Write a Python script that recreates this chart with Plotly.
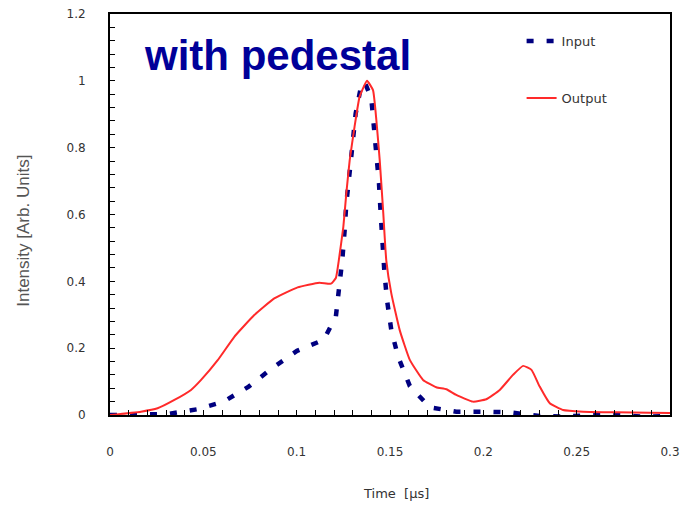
import plotly.graph_objects as go

# Output pulse (red solid)
out_t = [0, 0.0166, 0.0255, 0.0345, 0.0434, 0.0488, 0.0577, 0.0666, 0.0773, 0.088,
         0.1005, 0.1121, 0.1184, 0.121, 0.1225, 0.125, 0.1266, 0.1284, 0.131, 0.1337,
         0.1377, 0.1409, 0.1427, 0.1445, 0.1463, 0.148, 0.1507, 0.1552, 0.1606, 0.1677,
         0.1748, 0.1802, 0.1855, 0.1945, 0.2016, 0.2088, 0.2159, 0.2213, 0.2258, 0.2302,
         0.2356, 0.2427, 0.2534, 0.2713, 0.2891, 0.3]
out_v = [0, 0.01, 0.02, 0.045, 0.075, 0.105, 0.164, 0.234, 0.299, 0.349,
         0.382, 0.396, 0.393, 0.41, 0.46, 0.563, 0.663, 0.762, 0.862, 0.952,
         1.0, 0.972, 0.882, 0.762, 0.613, 0.463, 0.364, 0.254, 0.165, 0.105,
         0.083, 0.077, 0.06, 0.04, 0.047, 0.075, 0.12, 0.147, 0.135, 0.085,
         0.035, 0.015, 0.01, 0.008, 0.007, 0.006]

# Input pulse (navy dashed)
in_t = [0, 0.015, 0.031, 0.0466, 0.0609, 0.0743, 0.0868, 0.1002, 0.1145, 0.121,
        0.1229, 0.1245, 0.1257, 0.1266, 0.1284, 0.1302, 0.1316, 0.1346, 0.1364, 0.14,
        0.1414, 0.143, 0.1441, 0.145, 0.1459, 0.147, 0.1484, 0.1507, 0.1543, 0.1606,
        0.1713, 0.1855, 0.1998, 0.2141, 0.2302, 0.2436, 0.257, 0.272, 0.286, 0.3]
in_v = [0, 0, 0.003, 0.017, 0.04, 0.085, 0.14, 0.192, 0.225, 0.295,
        0.38, 0.468, 0.553, 0.633, 0.727, 0.817, 0.902, 0.987, 0.997, 0.947,
        0.862, 0.772, 0.693, 0.603, 0.518, 0.428, 0.344, 0.254, 0.175, 0.087,
        0.023, 0.01, 0.01, 0.008, -0.003, -0.005, 0.0, 0.0, -0.005, -0.003]

x_tickvals = [0, 0.05, 0.1, 0.15, 0.2, 0.25, 0.3]
x_ticktext = ["0", "0.05", "0.1", "0.15", "0.2", "0.25", "0.3"]
y_tickvals = [0, 0.2, 0.4, 0.6, 0.8, 1.0, 1.2]
y_ticktext = ["0", "0.2", "0.4", "0.6", "0.8", "1", "1.2"]

fig = go.Figure()
fig.add_trace(go.Scatter(x=in_t, y=in_v, mode="lines", name="Input", legendgroup="a",
                         line=dict(color="#000080", width=4.5, dash="7px,13px")))
fig.add_trace(go.Scatter(x=out_t, y=out_v, mode="lines", name="Output", legendgroup="b",
                         line=dict(color="#ff2a2a", width=2, shape="spline", smoothing=0.4)))

tickfont = dict(family="DejaVu Sans", size=12, color="#333")
fig.update_xaxes(range=[0, 0.3], tickvals=x_tickvals, ticktext=x_ticktext,
                 ticks="inside", ticklen=5, tickwidth=1, tickcolor="black",
                 minor=dict(dtick=0.01, tick0=0, ticks="inside", ticklen=5, tickcolor="black"),
                 showline=True, linecolor="black", linewidth=2, mirror=True, automargin=False,
                 showgrid=False, zeroline=False, tickfont=tickfont, ticklabelstandoff=25,
                 ticklabeloverflow="allow")
fig.update_yaxes(range=[0, 1.2], tickvals=y_tickvals, ticktext=y_ticktext,
                 ticks="inside", ticklen=5, tickwidth=1, tickcolor="black",
                 minor=dict(dtick=0.04, tick0=0, ticks="inside", ticklen=5, tickcolor="black"),
                 showline=True, linecolor="black", linewidth=2, mirror=True, automargin=False,
                 showgrid=False, zeroline=False, tickfont=tickfont, ticklabelstandoff=20,
                 ticklabeloverflow="allow")

fig.update_layout(
    width=683, height=505,
    margin=dict(l=110, r=13, t=14, b=90, autoexpand=False),
    plot_bgcolor="white", paper_bgcolor="white",
    showlegend=True,
    legend=dict(x=0.735, y=0.97, xanchor="left", yanchor="top",
                bgcolor="rgba(0,0,0,0)", tracegroupgap=37,
                font=dict(family="DejaVu Sans", size=13, color="#333")),
    annotations=[
        dict(text="<b>with pedestal</b>", xref="paper", yref="paper", x=0.057, y=0.897,
             xanchor="left", yanchor="middle", showarrow=False,
             font=dict(family="Arial", size=42, color="#000099")),
        dict(text="Intensity [Arb. Units]", xref="paper", yref="paper", x=-0.155, y=0.46,
             xanchor="center", yanchor="middle", textangle=-90, showarrow=False,
             font=dict(family="Arial", size=17, color="#555")),
        dict(text="Time  [µs]", xref="paper", yref="paper", x=0.51, y=-0.195,
             xanchor="center", yanchor="middle", showarrow=False,
             font=dict(family="DejaVu Sans", size=13, color="#333")),
    ],
)

fig.write_html("out.html", config={"displayModeBar": False},
               post_script="document.body.style.margin='0';")
